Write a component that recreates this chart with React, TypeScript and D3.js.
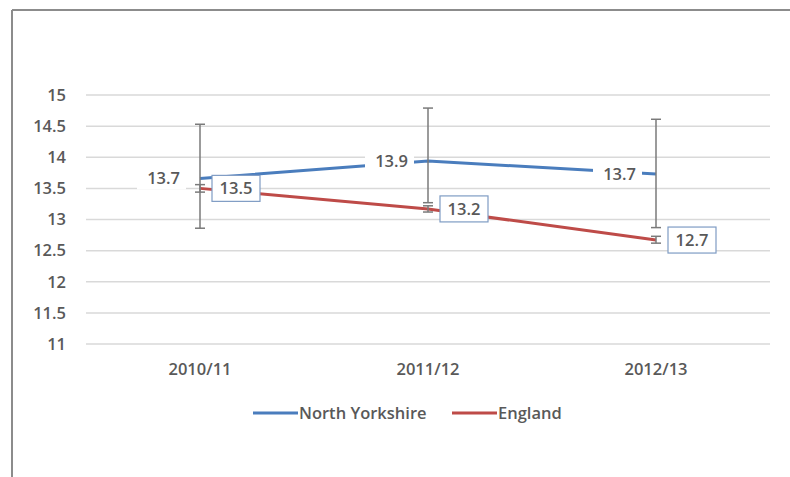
import React from "react";
import * as d3 from "d3";

const categories = ["2010/11", "2011/12", "2012/13"];
const northYorkshire = [13.66, 13.94, 13.73];
const nyLow = [12.86, 13.27, 12.87];
const nyHigh = [14.53, 14.79, 14.61];
const england = [13.5, 13.17, 12.67];
const engLow = [13.44, 13.12, 12.62];
const engHigh = [13.56, 13.22, 12.73];
const yTicks = [11, 11.5, 12, 12.5, 13, 13.5, 14, 14.5, 15];
const seriesNames = ["North Yorkshire", "England"];

const W = 790;
const H = 477;
const font = "'Open Sans', Lato, sans-serif";
const fw = 600;
const fs = 16.5;
const textColor = "#595959";
const blue = "#4a7dbd";
const red = "#be4b48";
const errColor = "#7a7a7a";

export default function App() {
  const x = d3.scaleBand<string>().domain(categories).range([86, 770]);
  const y = d3.scaleLinear().domain([11, 15]).range([344, 95]);
  const cx = (c: string) => (x(c) as number) + x.bandwidth() / 2;

  const line = d3
    .line<number>()
    .x((_, i) => cx(categories[i]))
    .y((d) => y(d));

  const cap = 5;
  const errBars = (lo: number[], hi: number[], key: string) =>
    categories.map((c, i) => {
      const xx = cx(c);
      return (
        <g key={key + i} stroke={errColor} strokeWidth={1.5}>
          <line x1={xx} x2={xx} y1={y(lo[i])} y2={y(hi[i])} />
          <line x1={xx - cap} x2={xx + cap} y1={y(lo[i])} y2={y(lo[i])} />
          <line x1={xx - cap} x2={xx + cap} y1={y(hi[i])} y2={y(hi[i])} />
        </g>
      );
    });

  return (
    <svg width={W} height={H} style={{ position: "absolute", left: 0, top: 0, display: "block" }}>
      <rect x={0} y={0} width={W} height={H} fill="#ffffff" />
      {/* outer frame */}
      <line x1={12} x2={W} y1={10} y2={10} stroke="#8c8c8c" strokeWidth={2} />
      <line x1={12} x2={12} y1={10} y2={H} stroke="#8c8c8c" strokeWidth={2} />

      {/* gridlines */}
      {yTicks.map((t) => (
        <line key={"g" + t} x1={86} x2={770} y1={y(t)} y2={y(t)} stroke="#d9d9d9" strokeWidth={1.5} />
      ))}
      {yTicks.map((t) => (
        <text
          key={"t" + t}
          x={66}
          y={y(t)}
          dy="0.35em"
          textAnchor="end"
          fontFamily={font}
          fontWeight={fw}
          fontSize={fs}
          fill={textColor}
        >
          {t}
        </text>
      ))}
      {categories.map((c) => (
        <text
          key={"c" + c}
          x={cx(c)}
          y={369}
          dy="0.35em"
          textAnchor="middle"
          fontFamily={font}
          fontWeight={fw}
          fontSize={fs}
          fill={textColor}
        >
          {c}
        </text>
      ))}

      {/* lines */}
      <path d={line(northYorkshire) || ""} fill="none" stroke={blue} strokeWidth={3} />
      <path d={line(england) || ""} fill="none" stroke={red} strokeWidth={3} />

      {/* error bars */}
      {errBars(nyLow, nyHigh, "ny")}
      {errBars(engLow, engHigh, "en")}

      {/* NY labels (left, white bg) */}
      {categories.map((c, i) => {
        const xx = cx(c) - 20;
        const yy = y(northYorkshire[i]);
        return (
          <g key={"nyl" + i}>
            <rect x={xx - 43} y={yy - 11} width={49} height={22} fill="#ffffff" />
            <text
              x={xx}
              y={yy}
              dy="0.35em"
              textAnchor="end"
              fontFamily={font}
              fontWeight={fw}
              fontSize={fs}
              fill={textColor}
            >
              {northYorkshire[i].toFixed(1)}
            </text>
          </g>
        );
      })}

      {/* England labels (right, boxed) */}
      {categories.map((c, i) => {
        const xx = cx(c) + 12;
        const yy = y(england[i]);
        return (
          <g key={"enl" + i}>
            <rect
              x={xx}
              y={yy - 13}
              width={48}
              height={26}
              fill="#ffffff"
              stroke="#7f9cc4"
              strokeWidth={1.2}
            />
            <text
              x={xx + 24}
              y={yy}
              dy="0.35em"
              textAnchor="middle"
              fontFamily={font}
              fontWeight={fw}
              fontSize={fs}
              fill={textColor}
            >
              {england[i].toFixed(1)}
            </text>
          </g>
        );
      })}

      {/* legend */}
      {seriesNames.map((s, i) => {
        const lx = i === 0 ? 253 : 452;
        const col = i === 0 ? blue : red;
        return (
          <g key={"lg" + s}>
            <line x1={lx} x2={lx + 45} y1={413} y2={413} stroke={col} strokeWidth={3} />
            <text
              x={lx + 46}
              y={413}
              dy="0.35em"
              fontFamily={font}
              fontWeight={fw}
              fontSize={fs}
              fill={textColor}
            >
              {s}
            </text>
          </g>
        );
      })}
    </svg>
  );
}
